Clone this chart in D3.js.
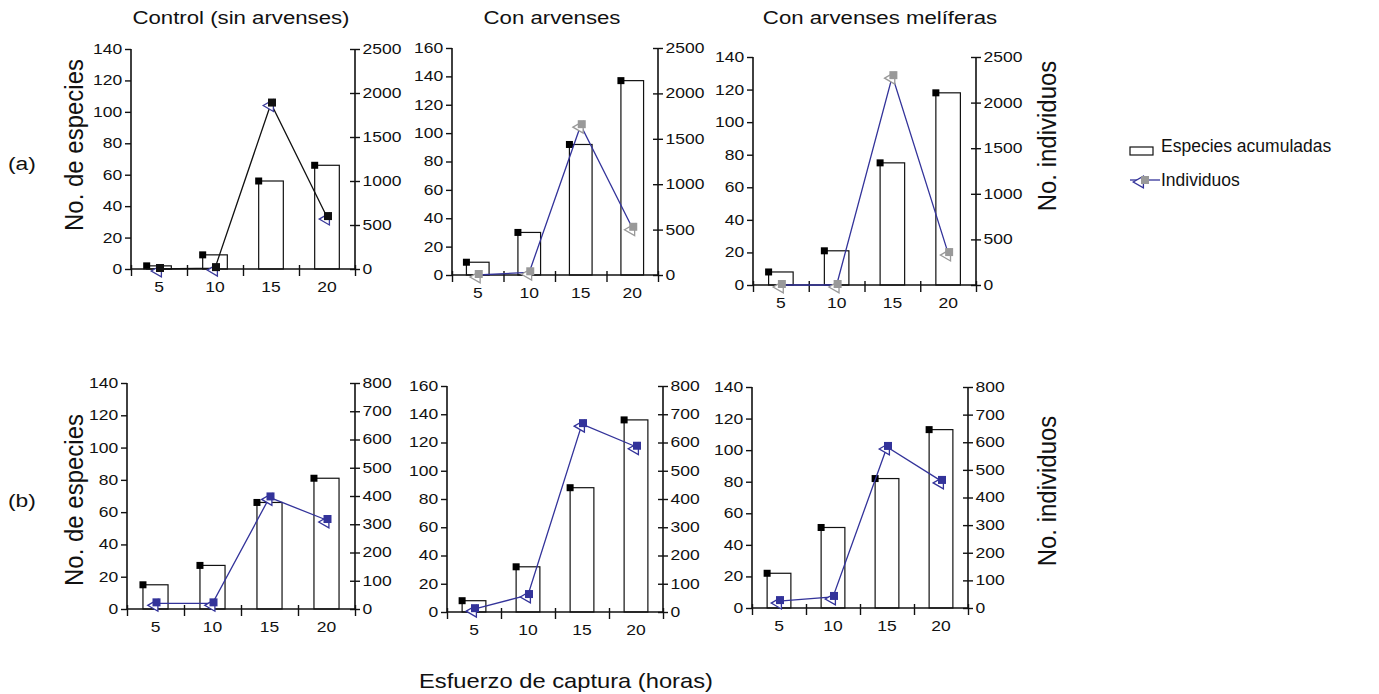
<!DOCTYPE html>
<html>
<head>
<meta charset="utf-8">
<script src="https://cdn.jsdelivr.net/npm/d3@7"></script>
<style>
  body { margin: 0; background: #fff; }
  text { font-family: "Liberation Sans", Arial, sans-serif; fill: #111; }
</style>
</head>
<body>
<div id="chart"></div>
<script>
const horas = [5, 10, 15, 20];

// Especies acumuladas (eje izquierdo)
const espControlA = [2, 9, 56, 66];
const espArvA = [9, 30, 92, 137];
const espMelA = [8, 21, 75, 118];
const espControlB = [15, 27, 66, 81];
const espArvB = [8, 32, 88, 136];
const espMelB = [22, 51, 82, 113];

// Individuos (eje derecho)
const indControlA = [0, 10, 1880, 590];
const indArvA = [0, 30, 1650, 520];
const indMelA = [0, 0, 2290, 350];
const indControlB = [20, 20, 395, 315];
const indArvB = [10, 60, 665, 585];
const indMelB = [25, 40, 583, 460];

const ticksEsp140 = [0, 20, 40, 60, 80, 100, 120, 140];
const ticksEsp160 = [0, 20, 40, 60, 80, 100, 120, 140, 160];
const ticksIndA = [0, 500, 1000, 1500, 2000, 2500];
const ticksIndB = [0, 100, 200, 300, 400, 500, 600, 700, 800];

const titulos = ["Control (sin arvenses)", "Con arvenses", "Con arvenses melíferas"];

const W = 1379, H = 694;
const svg = d3.select("#chart").append("svg").attr("width", W).attr("height", H);

// el original está algo estirado en horizontal
const SX = 1.25;

const paneles = [
  { esp: espControlA, ind: indControlA, tl: ticksEsp140, tr: ticksIndA, x0: 131, x1: 355, y0: 269, y1: 49, line: "#111", mk: "#111", tri: "#3a3a9a" },
  { esp: espArvA, ind: indArvA, tl: ticksEsp160, tr: ticksIndA, x0: 452, x1: 658, y0: 275, y1: 48, line: "#33339a", mk: "#999", tri: "#999" },
  { esp: espMelA, ind: indMelA, tl: ticksEsp140, tr: ticksIndA, x0: 753, x1: 976, y0: 285, y1: 57, line: "#33339a", mk: "#999", tri: "#999" },
  { esp: espControlB, ind: indControlB, tl: ticksEsp140, tr: ticksIndB, x0: 127, x1: 355, y0: 609, y1: 383, line: "#33339a", mk: "#33339a", tri: "#33339a" },
  { esp: espArvB, ind: indArvB, tl: ticksEsp160, tr: ticksIndB, x0: 447, x1: 663, y0: 612, y1: 386, line: "#33339a", mk: "#33339a", tri: "#33339a" },
  { esp: espMelB, ind: indMelB, tl: ticksEsp140, tr: ticksIndB, x0: 752, x1: 968, y0: 608, y1: 387, line: "#33339a", mk: "#33339a", tri: "#33339a" }
];

const triLeft = d3.symbol().type(d3.symbolTriangle).size(60);

function label(x, y, txt, size, sx, anchor = "middle", rot = 0) {
  const sc = rot ? `scale(1,${sx})` : `scale(${sx},1)`;
  return svg.append("text")
    .attr("transform", `translate(${x},${y}) rotate(${rot}) ${sc}`)
    .attr("text-anchor", anchor).style("font-size", size + "px").text(txt);
}

paneles.forEach(p => {
  const g = svg.append("g");
  const x = d3.scaleBand().domain(horas).range([p.x0, p.x1]).padding(0);
  const yL = d3.scaleLinear().domain([0, d3.max(p.tl)]).range([p.y0, p.y1]);
  const yR = d3.scaleLinear().domain([0, d3.max(p.tr)]).range([p.y0, p.y1]);
  const bw = x.bandwidth() * 0.44;

  // barras
  g.selectAll(".bar").data(horas).join("rect")
    .attr("x", d => x(d) + x.bandwidth() * 0.28)
    .attr("y", (d, i) => yL(p.esp[i]))
    .attr("width", bw)
    .attr("height", (d, i) => yL(0) - yL(p.esp[i]))
    .attr("fill", "#fff").attr("stroke", "#111").attr("stroke-width", 1.2);
  g.selectAll(".sq").data(horas).join("rect")
    .attr("x", d => x(d) + x.bandwidth() * 0.28 - 3.5)
    .attr("y", (d, i) => yL(p.esp[i]) - 3.5)
    .attr("width", 7).attr("height", 7).attr("fill", "#000");

  // ejes
  const fmt = d3.format("d");
  const axL = g.append("g").attr("transform", `translate(${p.x0},0)`)
    .call(d3.axisLeft(yL).tickValues(p.tl).tickFormat(fmt).tickSize(6).tickPadding(1));
  const axR = g.append("g").attr("transform", `translate(${p.x1},0)`)
    .call(d3.axisRight(yR).tickValues(p.tr).tickFormat(fmt).tickSize(5).tickPadding(1));
  axR.selectAll(".tick line").attr("x1", -5);
  [axL, axR].forEach(a => {
    a.select(".domain").attr("stroke", "#111").attr("stroke-width", 1.6).attr("d", `M0,${p.y0}V${p.y1}`);
    a.selectAll(".tick line").attr("stroke", "#111").attr("stroke-width", 1.4);
    a.selectAll("text").style("font-size", "14px").style("font-family", "Liberation Sans, Arial, sans-serif")
      .attr("fill", "#111").attr("transform", `scale(${SX},1)`);
  });

  const xb = d3.scaleLinear().domain([0, horas.length]).range([p.x0, p.x1]);
  g.append("g").attr("transform", `translate(0,${p.y0})`)
    .call(d3.axisBottom(xb).tickValues(d3.range(horas.length + 1)).tickSize(7).tickFormat(""))
    .call(a => a.select(".domain").attr("stroke", "#111").attr("stroke-width", 1.6).attr("d", `M${p.x0},0H${p.x1}`))
    .call(a => a.selectAll(".tick line").attr("stroke", "#111").attr("stroke-width", 1.4).attr("y1", -4));
  g.selectAll(".xl").data(horas).join("text")
    .attr("transform", d => `translate(${x(d) + x.bandwidth() / 2},${p.y0 + 23}) scale(${SX},1)`)
    .attr("text-anchor", "middle").style("font-size", "14px").text(d => d);

  // individuos
  const line = d3.line().x((d, i) => x(horas[i]) + x.bandwidth() / 2).y(d => yR(d));
  g.append("path").datum(p.ind).attr("d", line)
    .attr("fill", "none").attr("stroke", p.line).attr("stroke-width", 1.3);
  g.selectAll(".tri").data(p.ind).join("path")
    .attr("d", triLeft)
    .attr("transform", (d, i) => `translate(${x(horas[i]) + x.bandwidth() / 2 - 1},${yR(d) + 2}) rotate(-90)`)
    .attr("fill", "#fff").attr("stroke", p.tri).attr("stroke-width", 1.3);
  g.selectAll(".isq").data(p.ind).join("rect")
    .attr("x", (d, i) => x(horas[i]) + x.bandwidth() / 2 - 3)
    .attr("y", d => yR(d) - 5)
    .attr("width", 8).attr("height", 8).attr("fill", p.mk);
});

// títulos
const cx = [241, 552, 880];
titulos.forEach((t, i) => label(cx[i], 24, t, 18.5, 1.2));

// etiquetas de ejes
[[145, "(a)", 163], [500, "(b)", 500]].forEach(([cy, lab, ly]) => {
  label(83, cy, "No. de especies", 24, 1.1, "middle", -90);
  label(1056, cy - 9, "No. individuos", 24, 1.1, "middle", -90);
  label(8, ly + 7, lab, 19, 1.2, "start");
});
label(566, 688, "Esfuerzo de captura (horas)", 21, 1.13);

// leyenda
const lg = svg.append("g");
lg.append("rect").attr("x", 1130).attr("y", 147).attr("width", 23).attr("height", 8)
  .attr("fill", "#fff").attr("stroke", "#111").attr("stroke-width", 1.2);
lg.append("text").attr("x", 1161).attr("y", 152).style("font-size", "17.5px").text("Especies acumuladas");
lg.append("line").attr("x1", 1130).attr("x2", 1160).attr("y1", 180).attr("y2", 180)
  .attr("stroke", "#33339a").attr("stroke-width", 1.3);
lg.append("path").attr("d", triLeft).attr("transform", "translate(1140,182) rotate(-90)")
  .attr("fill", "#fff").attr("stroke", "#33339a").attr("stroke-width", 1.3);
lg.append("rect").attr("x", 1141).attr("y", 176).attr("width", 8).attr("height", 8).attr("fill", "#999");
lg.append("text").attr("x", 1161).attr("y", 186).style("font-size", "17.5px").text("Individuos");
</script>
</body>
</html>
